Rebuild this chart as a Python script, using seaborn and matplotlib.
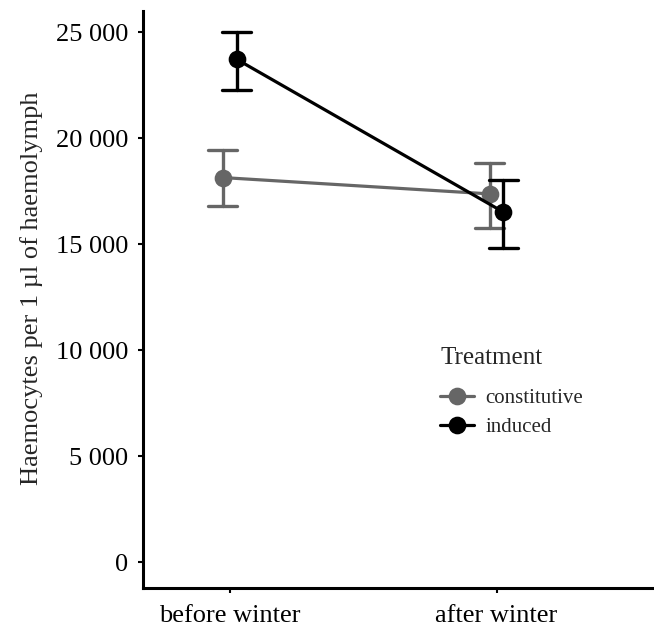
import numpy as np
import pandas as pd
import matplotlib
matplotlib.use("Agg")
import matplotlib.pyplot as plt
import seaborn as sns

# Data (mean and error-bar limits)
seasons = ["before winter", "after winter"]
treatments = ["constitutive", "induced"]
const_mean = [18150, 17380]
const_low = [16800, 15790]
const_high = [19450, 18820]
ind_mean = [23730, 16520]
ind_low = [22280, 14810]
ind_high = [25030, 18030]
yticks = [0, 5000, 10000, 15000, 20000, 25000]
ytick_labels = ["0", "5 000", "10 000", "15 000", "20 000", "25 000"]

rows = []
for t, means, lows, highs in [("constitutive", const_mean, const_low, const_high),
                              ("induced", ind_mean, ind_low, ind_high)]:
    for s, m, lo, hi in zip(seasons, means, lows, highs):
        for v in (lo, m, hi):
            rows.append({"Season": s, "Treatment": t, "value": v})
df = pd.DataFrame(rows)

sns.set_style("white")
plt.rcParams["font.family"] = ["Liberation Serif", "DejaVu Serif"]

fig = plt.figure(figsize=(6.54, 6.29), dpi=100)
ax = fig.add_axes([0.219, 0.065, 0.781, 0.918])

palette = {"constitutive": "#666666", "induced": "#000000"}
sns.pointplot(data=df, x="Season", y="value", hue="Treatment", order=seasons,
              hue_order=treatments, palette=palette, estimator=np.median,
              errorbar=lambda x: (np.min(x), np.max(x)), dodge=0.052,
              capsize=0.11, markersize=11, linewidth=2.3,
              err_kws={"linewidth": 2.4}, ax=ax)

ax.set_xlim(-0.324, 1.59)
ax.set_ylim(-1212, 26020)
ax.set_yticks(yticks)
ax.set_yticklabels(ytick_labels)
ax.set_xlabel("")
ax.set_ylabel("Haemocytes per 1 µl of haemolymph", fontsize=19)
ax.yaxis.set_label_coords(-0.196, 0.519)
for sp in ["top", "right"]:
    ax.spines[sp].set_visible(False)
for sp in ["left", "bottom"]:
    ax.spines[sp].set_linewidth(2.2)
    ax.spines[sp].set_color("black")
ax.tick_params(axis="both", which="both", length=3.6, width=1.5, color="black",
               labelsize=19, labelcolor="black", left=True, bottom=True)
ax.tick_params(axis="y", pad=7)
ax.tick_params(axis="x", pad=8.5)

leg = ax.legend(title="Treatment", loc="upper left", bbox_to_anchor=(0.545, 0.45),
                frameon=False, fontsize=15, title_fontsize=18,
                handlelength=1.6, handletextpad=0.55, labelspacing=0.45)
leg._legend_box.align = "left"
leg._legend_box.sep = 14

fig.savefig("out.png", dpi=100)
